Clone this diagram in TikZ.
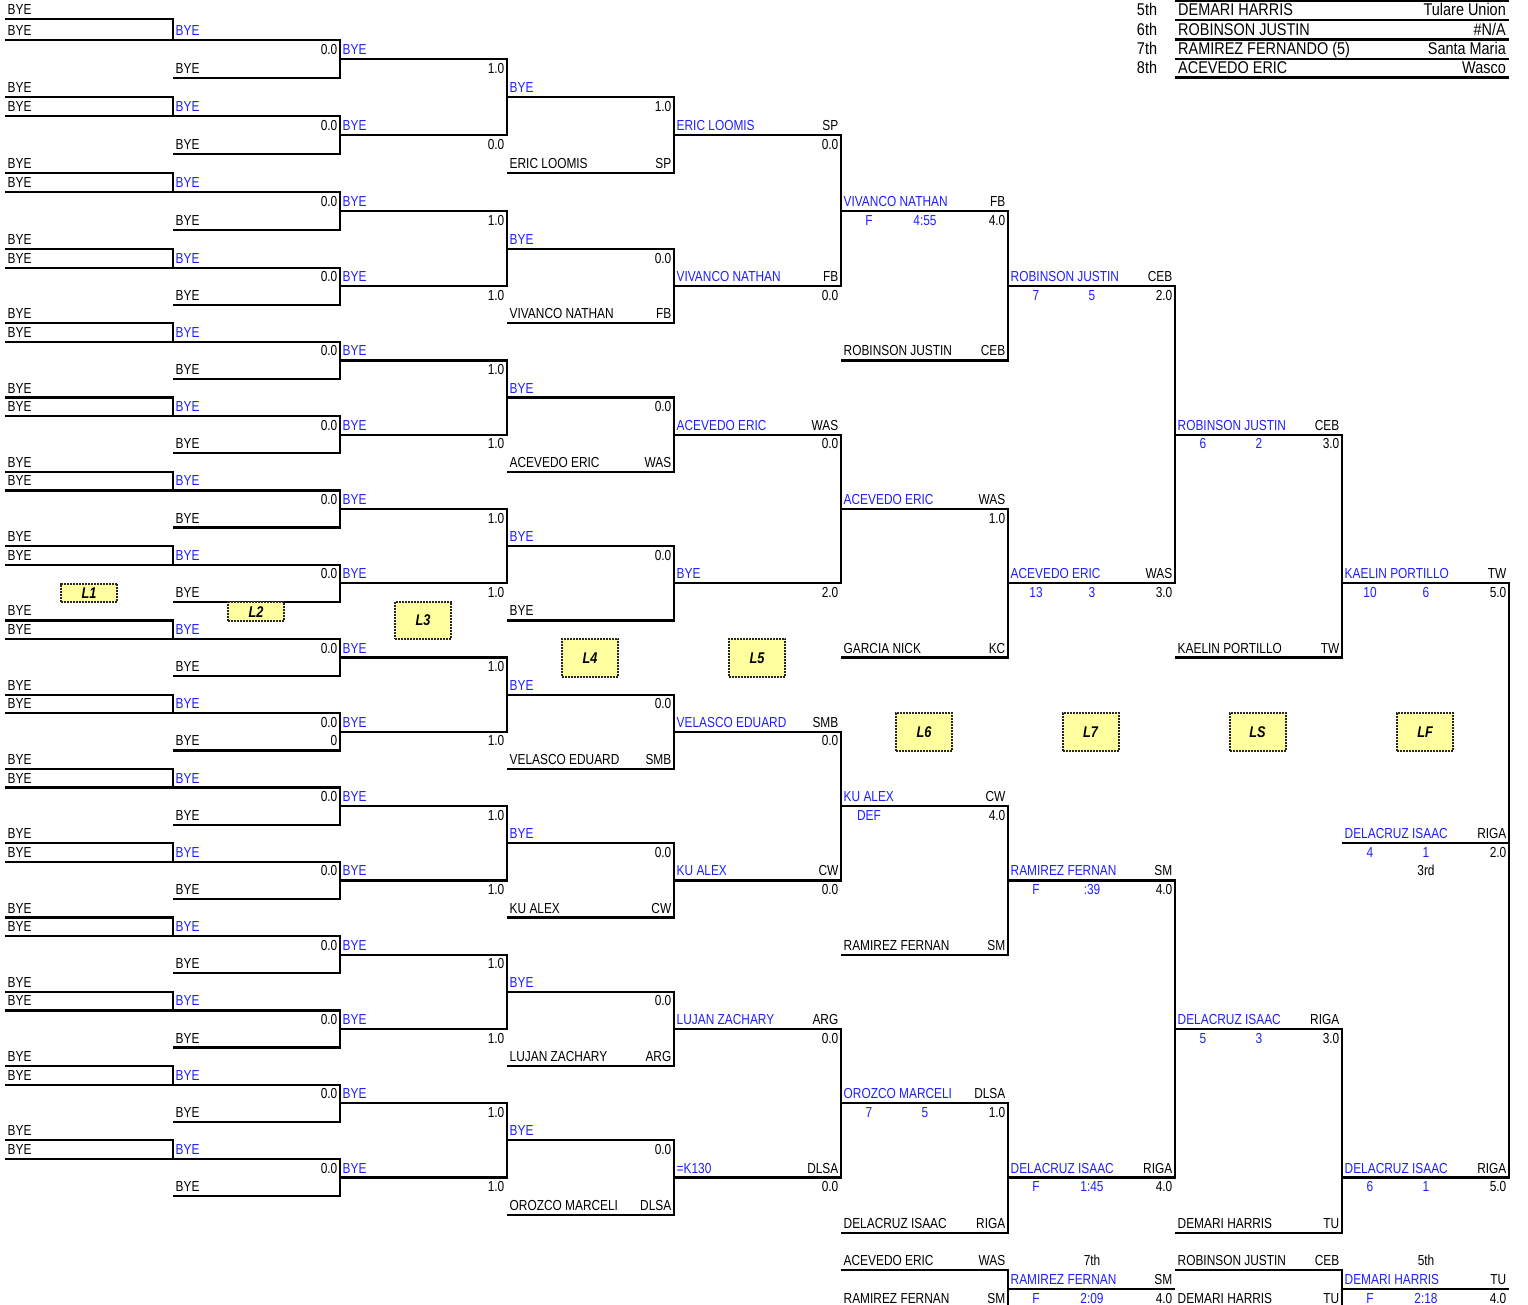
\documentclass[tikz,border=0pt]{standalone}
\usepackage{fontspec}
\setmainfont{Liberation Sans}[FakeStretch=0.82]
\newfontfamily\tabfont{Liberation Sans}[FakeStretch=0.85]
\definecolor{wb}{RGB}{30,30,255}
\definecolor{lblfill}{RGB}{255,255,160}
\newcount\nodecnt
\newcommand\txt[5]{\global\advance\nodecnt by 1\relax\edef\curname{n\the\nodecnt}%
  \node[tx,anchor=#1,text=#2] (\curname) at ({#3},{rb(#4)-4.5}) {#5};}
\newcommand\nL[4][black]{\txt{base west}{#1}{#2+2.5}{#3}{#4}}
\newcommand\nR[4][black]{\txt{base east}{#1}{#2-2.5}{#3}{#4}}
\newcommand\nC[4][black]{\txt{base}{#1}{#2}{#3}{#4}}
\newcommand\ent[5][black]{\nL[#1]{#2}{#3}{#4}\nR{#2+167}{#3}{#5}}
\newcommand\sco[5]{\nC[wb]{#1+28}{#2}{#3}\nC[wb]{#1+84}{#2}{#4}\nR{#1+167}{#2}{#5}}
\newcommand\hln[3]{\draw[br] ({#1},{rb(#3)}) -- ({#2},{rb(#3)});}
\newcommand\mtc[4]{\draw[br] ({#1},{rb(#3)}) -- ({#2},{rb(#3)}) -- ({#2},{rb(#4)}) -- ({#1},{rb(#4)});}
\begin{document}
\begin{tikzpicture}[x=1pt,y=-1pt,
  declare function={rb(\k)=(\k<1)?19.3:((\k<=12)?(40+19.03*(\k-1)):((\k<=16)?(249.3+18.5*(\k-12)):(323.3+18.57*(\k-16))));},
  br/.style={line width=2.2pt, line join=miter},
  tx/.style={inner sep=0pt, font=\fontsize{14.5}{17}\selectfont},
  tb/.style={inner sep=0pt, font=\tabfont\fontsize{17}{20}\selectfont},
  lbl/.style={fill=lblfill, draw=black!85, densely dotted, line width=2pt, inner sep=0pt,
    minimum width=56pt, text=black, font=\fontsize{15.5}{17}\selectfont\bfseries\itshape}]
\useasboundingbox (0,0) rectangle (1528,1304);

% ---- top-right placings table
\foreach \yy in {0.8,20,39.5,58.7,77.5} \draw[br] (1175,\yy) -- (1509,\yy);
\node[tb,anchor=base] (p5) at (1147,15.5) {5th};
\node[tb,anchor=base west] (p5n) at (1178,15.5) {DEMARI HARRIS};
\node[tb,anchor=base east] (p5s) at (1506,15.5) {Tulare Union};
\node[tb,anchor=base] (p6) at (1147,35) {6th};
\node[tb,anchor=base west] (p6n) at (1178,35) {ROBINSON JUSTIN};
\node[tb,anchor=base east] (p6s) at (1506,35) {\#N/A};
\node[tb,anchor=base] (p7) at (1147,54.2) {7th};
\node[tb,anchor=base west] (p7n) at (1178,54.2) {RAMIREZ FERNANDO (5)};
\node[tb,anchor=base east] (p7s) at (1506,54.2) {Santa Maria};
\node[tb,anchor=base] (p8) at (1147,73) {8th};
\node[tb,anchor=base west] (p8n) at (1178,73) {ACEVEDO ERIC};
\node[tb,anchor=base east] (p8s) at (1506,73) {Wasco};

% ---- rounds A, B
\foreach \k in {0,...,15}{
  \pgfmathtruncatemacro\qa{4*\k}
  \pgfmathtruncatemacro\qb{4*\k+1}
  \pgfmathtruncatemacro\qc{4*\k+2}
  \pgfmathtruncatemacro\qd{4*\k+3}
  \draw[br] (5,{rb(\qa)}) -- (173,{rb(\qa)}) -- (173,{rb(\qb)});
  \draw[br] (5,{rb(\qb)}) -- (340,{rb(\qb)}) -- (340,{rb(\qd)}) -- (173,{rb(\qd)});
  \nL{5}{\qa}{BYE}
  \nL{5}{\qb}{BYE}
  \nL[wb]{173}{\qb}{BYE}
  \nR{340}{\qc}{0.0}
  \nL[wb]{340}{\qc}{BYE}
  \nL{173}{\qd}{BYE}
}
\nR{340}{39}{0}

% ---- rounds C, D
\foreach \b in {0,...,7}{
  \pgfmathtruncatemacro\qa{8*\b+2}
  \pgfmathtruncatemacro\qb{8*\b+6}
  \pgfmathtruncatemacro\qc{8*\b+4}
  \pgfmathtruncatemacro\qd{8*\b+8}
  \mtc{340}{507}{\qa}{\qb}
  \mtc{507}{674}{\qc}{\qd}
  \nL[wb]{507}{\qc}{BYE}
}
\foreach \r/\s in {3/1.0,7/0.0,11/1.0,15/1.0,19/1.0,23/1.0,27/1.0,31/1.0,35/1.0,39/1.0,43/1.0,47/1.0,51/1.0,55/1.0,59/1.0,63/1.0}{\nR{507}{\r}{\s}}
\foreach \r/\s in {5/1.0,13/0.0,21/0.0,29/0.0,37/0.0,45/0.0,53/0.0,61/0.0}{\nR{674}{\r}{\s}}
\ent{507}{8}{ERIC LOOMIS}{SP}
\ent{507}{16}{VIVANCO NATHAN}{FB}
\ent{507}{24}{ACEVEDO ERIC}{WAS}
\nL{507}{32}{BYE}
\ent{507}{40}{VELASCO EDUARD}{SMB}
\ent{507}{48}{KU ALEX}{CW}
\ent{507}{56}{LUJAN ZACHARY}{ARG}
\ent{507}{64}{OROZCO MARCELI}{DLSA}

% ---- round E
\foreach \g in {0,...,3}{
  \pgfmathtruncatemacro\qa{16*\g+6}
  \pgfmathtruncatemacro\qb{16*\g+14}
  \mtc{674}{841}{\qa}{\qb}
}
\ent[wb]{674}{6}{ERIC LOOMIS}{SP}
\ent[wb]{674}{14}{VIVANCO NATHAN}{FB}
\ent[wb]{674}{22}{ACEVEDO ERIC}{WAS}
\nL[wb]{674}{30}{BYE}
\ent[wb]{674}{38}{VELASCO EDUARD}{SMB}
\ent[wb]{674}{46}{KU ALEX}{CW}
\ent[wb]{674}{54}{LUJAN ZACHARY}{ARG}
\ent[wb]{674}{62}{=K130}{DLSA}
\foreach \r/\s in {7/0.0,15/0.0,23/0.0,31/2.0,39/0.0,47/0.0,55/0.0,63/0.0}{\nR{841}{\r}{\s}}

% ---- round F
\mtc{841}{1008}{10}{18}
\mtc{841}{1008}{26}{34}
\mtc{841}{1008}{42}{50}
\mtc{841}{1008}{58}{65}
\mtc{841}{1008}{67}{69}
\ent[wb]{841}{10}{VIVANCO NATHAN}{FB}
\sco{841}{11}{F}{4:55}{4.0}
\ent{841}{18}{ROBINSON JUSTIN}{CEB}
\ent[wb]{841}{26}{ACEVEDO ERIC}{WAS}
\nR{1008}{27}{1.0}
\ent{841}{34}{GARCIA NICK}{KC}
\ent[wb]{841}{42}{KU ALEX}{CW}
\nC[wb]{869}{43}{DEF}
\nR{1008}{43}{4.0}
\ent{841}{50}{RAMIREZ FERNAN}{SM}
\ent[wb]{841}{58}{OROZCO MARCELI}{DLSA}
\sco{841}{59}{7}{5}{1.0}
\ent{841}{65}{DELACRUZ ISAAC}{RIGA}
\ent{841}{67}{ACEVEDO ERIC}{WAS}
\ent{841}{69}{RAMIREZ FERNAN}{SM}

% ---- round G
\mtc{1008}{1175}{14}{30}
\mtc{1008}{1175}{46}{62}
\hln{1008}{1175}{68}
\ent[wb]{1008}{14}{ROBINSON JUSTIN}{CEB}
\sco{1008}{15}{7}{5}{2.0}
\ent[wb]{1008}{30}{ACEVEDO ERIC}{WAS}
\sco{1008}{31}{13}{3}{3.0}
\ent[wb]{1008}{46}{RAMIREZ FERNAN}{SM}
\sco{1008}{47}{F}{:39}{4.0}
\ent[wb]{1008}{62}{DELACRUZ ISAAC}{RIGA}
\sco{1008}{63}{F}{1:45}{4.0}
\nC{1092}{67}{7th}
\ent[wb]{1008}{68}{RAMIREZ FERNAN}{SM}
\sco{1008}{69}{F}{2:09}{4.0}

% ---- round H
\mtc{1175}{1342}{22}{34}
\mtc{1175}{1342}{54}{65}
\mtc{1175}{1342}{67}{69}
\ent[wb]{1175}{22}{ROBINSON JUSTIN}{CEB}
\sco{1175}{23}{6}{2}{3.0}
\ent{1175}{34}{KAELIN PORTILLO}{TW}
\ent[wb]{1175}{54}{DELACRUZ ISAAC}{RIGA}
\sco{1175}{55}{5}{3}{3.0}
\ent{1175}{65}{DEMARI HARRIS}{TU}
\ent{1175}{67}{ROBINSON JUSTIN}{CEB}
\ent{1175}{69}{DEMARI HARRIS}{TU}

% ---- round I
\mtc{1342}{1509}{30}{62}
\hln{1342}{1509}{44}
\hln{1342}{1509}{68}
\ent[wb]{1342}{30}{KAELIN PORTILLO}{TW}
\sco{1342}{31}{10}{6}{5.0}
\ent[wb]{1342}{44}{DELACRUZ ISAAC}{RIGA}
\sco{1342}{45}{4}{1}{2.0}
\nC{1426}{46}{3rd}
\ent[wb]{1342}{62}{DELACRUZ ISAAC}{RIGA}
\sco{1342}{63}{6}{1}{5.0}
\nC{1426}{67}{5th}
\ent[wb]{1342}{68}{DEMARI HARRIS}{TU}
\sco{1342}{69}{F}{2:18}{4.0}

% ---- round labels
\node[lbl,minimum height=18.5pt] (L1) at (89,593.2) {L1};
\node[lbl,minimum height=18.7pt] (L2) at (256,611.7) {L2};
\node[lbl,minimum height=37.5pt] (L3) at (423,620.3) {L3};
\node[lbl,minimum height=38.5pt] (L4) at (590,658) {L4};
\node[lbl,minimum height=38.5pt] (L5) at (757,658) {L5};
\node[lbl,minimum height=38pt] (L6) at (924,732) {L6};
\node[lbl,minimum height=38pt] (L7) at (1090.5,732) {L7};
\node[lbl,minimum height=38pt] (LS) at (1257.5,732) {LS};
\node[lbl,minimum height=38pt] (LF) at (1425,732) {LF};
\end{tikzpicture}
\end{document}
